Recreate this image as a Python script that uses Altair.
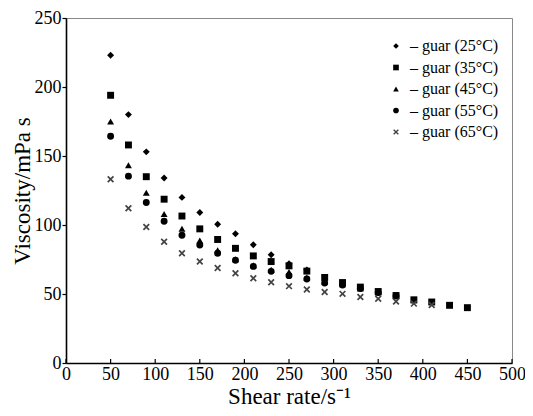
import altair as alt
import pandas as pd

series = ["– guar (25°C)", "– guar (35°C)", "– guar (45°C)", "– guar (55°C)", "– guar (65°C)"]

x25 = [50, 70, 90, 110, 130, 150, 170, 190, 210, 230, 250, 270]
y25 = [223, 180, 153, 134, 120, 109, 100.5, 93.6, 85.7, 78.5, 72, 67.5]

x35 = [50, 70, 90, 110, 130, 150, 170, 190, 210, 230, 250, 270, 290, 310, 330, 350, 370, 390, 410, 430, 450]
y35 = [194, 158, 135, 118.7, 106.5, 97.2, 89.5, 83.1, 77.6, 73.5, 70.4, 66.6, 62, 58.3, 55, 51.8, 48.9, 45.8, 44.2, 41.8, 40.1]

x45 = [50, 70, 90, 110, 130, 150, 170, 190, 210, 230, 250, 270, 290, 310, 330, 350, 370, 390]
y45 = [175, 143.3, 123.4, 107.9, 97.2, 88.8, 81.7, 75.2, 70.9, 67.6, 66, 62, 59, 57, 54, 51, 48.5, 45.5]

x55 = [50, 70, 90, 110, 130, 150, 170, 190, 210, 230, 250, 270, 290, 310, 330, 350, 370]
y55 = [164.3, 135.4, 116.3, 102.7, 92.6, 85.5, 79.5, 74.5, 70, 66.4, 63.3, 60.9, 58, 56.5, 54, 51, 48.5]

x65 = [50, 70, 90, 110, 130, 150, 170, 190, 210, 230, 250, 270, 290, 310, 330, 350, 370, 390, 410]
y65 = [133.2, 112.2, 98.6, 87.9, 79.5, 73.6, 68.8, 65, 61.4, 58.5, 55.7, 53.2, 51.4, 50.1, 47.8, 46.6, 44.6, 43, 42]

x_ticks = [0, 50, 100, 150, 200, 250, 300, 350, 400, 450, 500]
y_ticks = [0, 50, 100, 150, 200, 250]

rows = []
for name, xs, ys in zip(series, [x25, x35, x45, x55, x65], [y25, y35, y45, y55, y65]):
    for a, b in zip(xs, ys):
        rows.append({"series": name, "rate": a, "visc": b})
df = pd.DataFrame(rows)
ticks_df = pd.DataFrame({"t": x_ticks})

X_SHAPE = "M-1,-0.65L-0.65,-1L0,-0.35L0.65,-1L1,-0.65L0.35,0L1,0.65L0.65,1L0,0.35L-0.65,1L-1,0.65L-0.35,0Z"
shapes = ["diamond", "square", "triangle-up", "circle", X_SHAPE]
colors = ["#000000", "#000000", "#000000", "#000000", "#444444"]

FONT = "Liberation Serif"
W, H = 446, 345

xscale = alt.Scale(domain=[0, 500], nice=False)
yscale = alt.Scale(domain=[0, 250], nice=False)

legend = alt.Legend(title=None, orient="none", legendX=322, legendY=20)

points = alt.Chart(df).mark_point(filled=True, size=48, opacity=1).encode(
    x=alt.X("rate:Q", scale=xscale,
            axis=alt.Axis(values=x_ticks, title="Shear rate/s⁻¹", ticks=False,
                          labelPadding=2, titlePadding=2, grid=False, labelFlush=False)),
    y=alt.Y("visc:Q", scale=yscale,
            axis=alt.Axis(values=y_ticks, title="Viscosity/mPa s", tickSize=4,
                          labelPadding=1, titlePadding=0, grid=False, labelFlush=False)),
    shape=alt.Shape("series:N", scale=alt.Scale(domain=series, range=shapes), legend=legend),
    color=alt.Color("series:N", scale=alt.Scale(domain=series, range=colors), legend=legend),
)

xticks = alt.Chart(ticks_df).mark_rule(color="#000000", strokeWidth=1.2).encode(
    x=alt.X("t:Q", scale=xscale),
    y=alt.value(H),
    y2=alt.value(H - 4),
)

chart = alt.layer(xticks, points).properties(
    width=W, height=H,
    autosize=alt.AutoSizeParams(type="none"),
    padding={"left": 58, "top": 10, "right": 13, "bottom": 45},
).configure_view(
    stroke="#888888", strokeWidth=1
).configure_axis(
    domainColor="#000000", domainWidth=1.6, tickColor="#000000", tickWidth=1.2,
    labelFont=FONT, titleFont=FONT, labelFontSize=18, titleFontSize=23,
    labelColor="#000000", titleColor="#000000", titleFontWeight="normal",
).configure_legend(
    labelFont=FONT, labelFontSize=16, labelColor="#000000", symbolSize=32,
    rowPadding=5.5, padding=0, labelOffset=6,
)

chart.save("out.html", embed_options={"renderer": "svg", "actions": False})
